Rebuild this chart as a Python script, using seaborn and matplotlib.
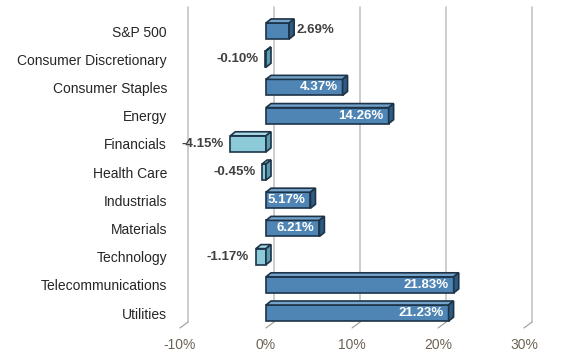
import matplotlib
matplotlib.use("Agg")
import matplotlib.pyplot as plt
import seaborn as sns
import pandas as pd
from matplotlib.patches import Polygon
from matplotlib.transforms import ScaledTranslation

# data
sectors = ["S&P 500", "Consumer Discretionary", "Consumer Staples", "Energy",
           "Financials", "Health Care", "Industrials", "Materials",
           "Technology", "Telecommunications", "Utilities"]
bar_len = [2.69, -0.10, 8.9, 14.26, -4.15, -0.45, 5.17, 6.21, -1.17, 21.83, 21.23]  # drawn length
labels = ["2.69%", "-0.10%", "4.37%", "14.26%", "-4.15%", "-0.45%",
          "5.17%", "6.21%", "-1.17%", "21.83%", "21.23%"]
inside = [False, False, True, True, False, False, True, True, False, True, True]
ticks = [-10, 0, 10, 20, 30]
tick_labels = ["-10%", "0%", "10%", "20%", "30%"]

df = pd.DataFrame({"sector": sectors, "val": bar_len})

BLUE = ("#4f85b5", "#74a3cc", "#2d5b82")   # front, top, side
CYAN = ("#8ccad8", "#a9dbe6", "#5b9cae")
EDGE = "#1d3348"

sns.set_style("white")
plt.rcParams["font.family"] = ["Liberation Sans", "DejaVu Sans"]

fig = plt.figure(figsize=(5.63, 3.63), dpi=100)
ax = fig.add_axes([180 / 563, 1 - 328 / 363, 352 / 563, 321 / 363])

pal = [BLUE[0] if v >= 0 else CYAN[0] for v in bar_len]
sns.barplot(data=df, x="val", y="sector", hue="sector", palette=pal, legend=False,
            orient="h", width=0.57, saturation=1, edgecolor=EDGE, linewidth=1.2,
            ax=ax, zorder=3)

ax.set_xlim(-10, -10 + 352 / 8.6)
ax.set_ylim(10.53, -0.851)

# back wall grid + floor diagonals (3d look)
gdx = 8 / 8.6
for t in ticks:
    ax.plot([t + gdx, t + gdx], [-0.851, 10.32], color="#c4c4c4", lw=1.2,
            zorder=1, clip_on=False)
    ax.plot([t, t + gdx], [10.53, 10.32], color="#9a9a9a", lw=0.8,
            zorder=1, clip_on=False)

# top and side faces
dx = 5 / 8.6
dy = 4 / 28.2
for p, v in zip(ax.patches, bar_len):
    x0 = p.get_x()
    x1 = x0 + p.get_width()
    xl, xr = min(x0, x1), max(x0, x1)
    yt = min(p.get_y(), p.get_y() + p.get_height())
    yb = max(p.get_y(), p.get_y() + p.get_height())
    cols = BLUE if v >= 0 else CYAN
    top = Polygon([(xl, yt), (xr, yt), (xr + dx, yt - dy), (xl + dx, yt - dy)],
                  closed=True, facecolor=cols[1], edgecolor=EDGE, lw=1.2, zorder=3)
    side = Polygon([(xr, yt), (xr + dx, yt - dy), (xr + dx, yb - dy), (xr, yb)],
                   closed=True, facecolor=cols[2], edgecolor=EDGE, lw=1.2, zorder=3)
    ax.add_patch(top)
    ax.add_patch(side)

# value labels
for i, (v, lab, ins) in enumerate(zip(bar_len, labels, inside)):
    if ins:
        ax.text(v - 0.6, i, lab, ha="right", va="center", color="white",
                fontsize=9.5, fontweight="bold", zorder=5)
    elif v >= 0:
        ax.text(v + dx + 0.25, i - 0.03, lab, ha="left", va="center", color="#404040",
                fontsize=9.5, fontweight="bold", zorder=5)
    else:
        ax.text(v - 0.8, i, lab, ha="right", va="center", color="#404040",
                fontsize=9.5, fontweight="bold", zorder=5)

ax.set_xticks(ticks)
ax.set_xticklabels(tick_labels, color="#6e6455", fontsize=10)
for lbl in ax.get_xticklabels():
    lbl.set_transform(lbl.get_transform() + ScaledTranslation(-3 / 100, 0, fig.dpi_scale_trans))
ax.tick_params(axis="x", length=0, pad=7)
ax.tick_params(axis="y", length=0, pad=9.4, labelsize=10, labelcolor="#262626")
ax.set_xlabel("")
ax.set_ylabel("")
for s in ax.spines.values():
    s.set_visible(False)
ax.grid(False)

fig.savefig("out.png", dpi=100)
